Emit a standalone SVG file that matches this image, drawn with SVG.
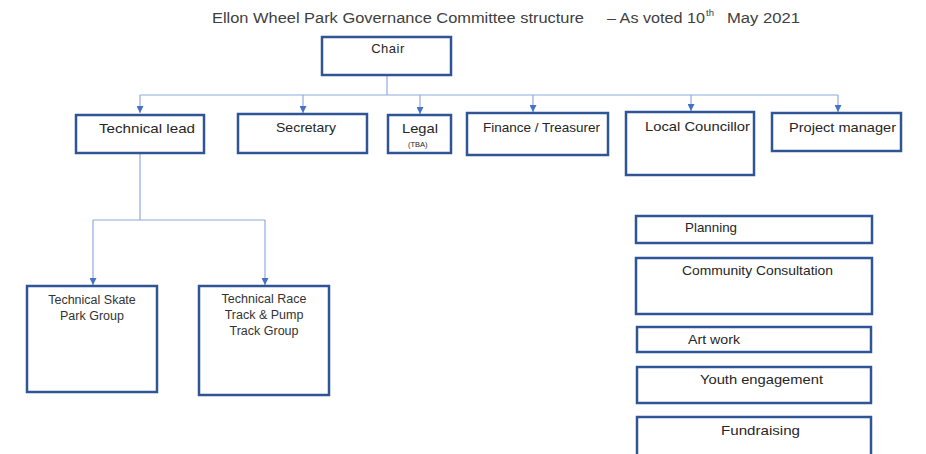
<svg xmlns="http://www.w3.org/2000/svg" width="926" height="454" viewBox="0 0 926 454">
<defs>
<style>
.box{fill:#fff;stroke:#2F5597;stroke-width:2.5}
.con{fill:none;stroke:#8FAADC;stroke-width:1.2}
text{font-family:"Liberation Sans","Open Sans",sans-serif;fill:#262626}
.t{font-size:13px}
.g{font-size:12.5px;fill:#333}
.title{font-size:15.5px;fill:#404040}
.sup{font-size:9.5px;fill:#404040}
</style>
<marker id="arr" viewBox="0 0 10 10" refX="10" refY="5" markerWidth="7" markerHeight="7" markerUnits="userSpaceOnUse" orient="auto">
<path d="M0,0 L10,5 L0,10 z" fill="#4472C4"/>
</marker>
</defs>
<rect width="926" height="454" fill="#fff"/>
<g id="title">
<text class="title" x="212" y="23" textLength="372" lengthAdjust="spacingAndGlyphs">Ellon Wheel Park Governance Committee structure</text>
<text class="title" x="607" y="23" textLength="98" lengthAdjust="spacingAndGlyphs">– As voted 10</text>
<text class="sup" x="706" y="16">th</text>
<text class="title" x="727" y="23" textLength="73" lengthAdjust="spacingAndGlyphs">May 2021</text>
</g>
<g id="connectors">
<path class="con" d="M387,75 V95"/>
<path class="con" d="M140,95 H838"/>
<path class="con" d="M140,95 V113" marker-end="url(#arr)"/>
<path class="con" d="M303,95 V113" marker-end="url(#arr)"/>
<path class="con" d="M420,95 V114" marker-end="url(#arr)"/>
<path class="con" d="M533,95 V112" marker-end="url(#arr)"/>
<path class="con" d="M691,95 V111" marker-end="url(#arr)"/>
<path class="con" d="M838,95 V112" marker-end="url(#arr)"/>
<path class="con" d="M140,153 V220"/>
<path class="con" d="M93,220 H265"/>
<path class="con" d="M93,220 V285" marker-end="url(#arr)"/>
<path class="con" d="M265,220 V285" marker-end="url(#arr)"/>
</g>
<g id="chair"><rect class="box" x="322" y="37" width="129" height="38"/><text class="t" x="388" y="53" text-anchor="middle" letter-spacing="0.5">Chair</text></g>
<g id="technical-lead"><rect class="box" x="76" y="115" width="128" height="38"/><text class="t" x="99" y="133" textLength="96" lengthAdjust="spacingAndGlyphs">Technical lead</text></g>
<g id="secretary"><rect class="box" x="238" y="114" width="129" height="39"/><text class="t" x="276" y="132" textLength="60" lengthAdjust="spacingAndGlyphs">Secretary</text></g>
<g id="legal"><rect class="box" x="388" y="115" width="63" height="38"/><text class="t" x="402" y="133" textLength="36" lengthAdjust="spacingAndGlyphs">Legal</text><text x="408" y="147" font-size="7.5">(TBA)</text></g>
<g id="finance"><rect class="box" x="467" y="113" width="141" height="42"/><text class="t" x="483" y="132" textLength="117" lengthAdjust="spacingAndGlyphs">Finance / Treasurer</text></g>
<g id="local-councillor"><rect class="box" x="626" y="112" width="128" height="63"/><text class="t" x="645" y="131" textLength="105" lengthAdjust="spacingAndGlyphs">Local Councillor</text></g>
<g id="project-manager"><rect class="box" x="772" y="113" width="129" height="38"/><text class="t" x="789" y="132" textLength="107" lengthAdjust="spacingAndGlyphs">Project manager</text></g>
<g id="skate-park"><rect class="box" x="27" y="286" width="130" height="106"/><text class="g" x="92" y="304" text-anchor="middle">Technical Skate</text><text class="g" x="92" y="320" text-anchor="middle">Park Group</text></g>
<g id="race-track"><rect class="box" x="199" y="286" width="130" height="109"/><text class="g" x="264" y="303" text-anchor="middle">Technical Race</text><text class="g" x="264" y="319" text-anchor="middle">Track &amp; Pump</text><text class="g" x="264" y="335" text-anchor="middle">Track Group</text></g>
<g id="planning"><rect class="box" x="636" y="216" width="236" height="27"/><text class="t" x="685" y="232" textLength="52" lengthAdjust="spacingAndGlyphs">Planning</text></g>
<g id="community-consultation"><rect class="box" x="636" y="258" width="236" height="56"/><text class="t" x="682" y="275" textLength="151" lengthAdjust="spacingAndGlyphs">Community Consultation</text></g>
<g id="art-work"><rect class="box" x="637" y="327" width="234" height="25"/><text class="t" x="688" y="344" textLength="52" lengthAdjust="spacingAndGlyphs">Art work</text></g>
<g id="youth-engagement"><rect class="box" x="637" y="367" width="234" height="36"/><text class="t" x="700" y="384" textLength="123" lengthAdjust="spacingAndGlyphs">Youth engagement</text></g>
<g id="fundraising"><rect class="box" x="637" y="417" width="234" height="40"/><text class="t" x="721" y="435" textLength="79" lengthAdjust="spacingAndGlyphs">Fundraising</text></g>
</svg>
